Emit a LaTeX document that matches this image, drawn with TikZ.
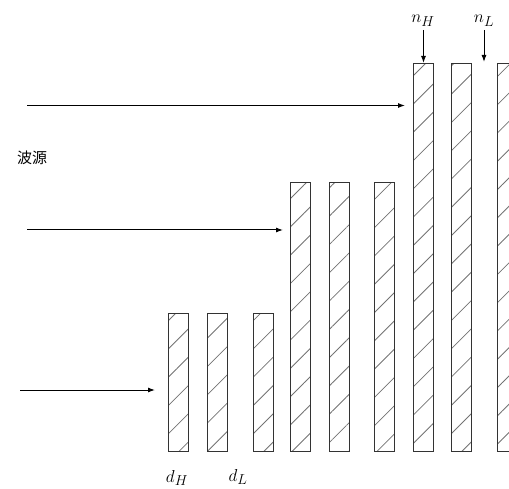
\documentclass[tikz,border=0pt]{standalone}
\usepackage{fontspec}
\newfontfamily\cjk{Noto Sans CJK SC}
\usetikzlibrary{arrows.meta,patterns.meta}

\begin{document}
\begin{tikzpicture}[x=1pt,y=-1pt,>={Latex[length=7pt,width=5pt]},
 bar/.style={draw=black!80,line width=1pt,anchor=south west,minimum width=20pt,inner sep=0pt,
  pattern={Lines[angle=45,distance=20pt,line width=0.8pt]},pattern color=black!55},
 lbl/.style={font=\fontsize{19}{22}\selectfont,inner sep=0pt}]
\useasboundingbox (0,0) rectangle (509,489);
% layers, low / middle / high stack
\node[bar,minimum height=138pt] (b1) at (168,452) {};
\node[bar,minimum height=138pt] (b2) at (207,452) {};
\node[bar,minimum height=138pt] (b3) at (253,452) {};
\node[bar,minimum height=269pt] (b4) at (290,452) {};
\node[bar,minimum height=269pt] (b5) at (329,452) {};
\node[bar,minimum height=269pt] (b6) at (374,452) {};
\node[bar,minimum height=388pt] (b7) at (413,452) {};
\node[bar,minimum height=388pt] (b8) at (451,452) {};
\node[bar,minimum height=388pt] (b9) at (497,452) {};
% incoming waves
\coordinate (s1) at (27,105.5); \coordinate (s2) at (27,230); \coordinate (s3) at (20,390);
\draw[->,line width=1pt,shorten >=8pt] (s1) -- (s1 -| b7.west);
\draw[->,line width=1pt,shorten >=7pt] (s2) -- (s2 -| b4.west);
\draw[->,line width=1pt,shorten >=13pt] (s3) -- (s3 -| b1.west);
\node[font=\cjk\fontsize{15}{17}\selectfont] (src) at (32,158) {波源};
% labels
\node[lbl] (nH) at (423,21) {$n_H$};
\node[lbl] (nL) at (484,21) {$n_L$};
\coordinate (gap) at (484,62);
\draw[->,line width=1pt] (b7.north |- nH.south) ++(0,3) -- (b7.north);
\draw[->,line width=1pt] (gap |- nL.south) ++(0,3) -- (gap);
\node[lbl] (dH) at (177,478) {$d_H$};
\node[lbl] (dL) at (238,477) {$d_L$};
\end{tikzpicture}
\end{document}
